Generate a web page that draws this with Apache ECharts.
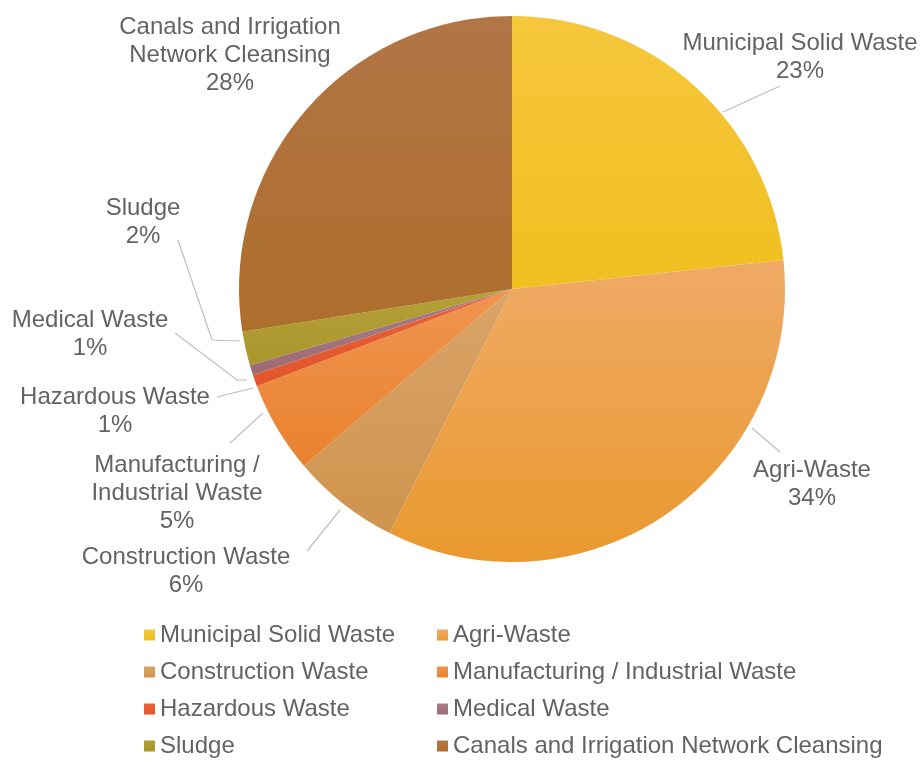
<!DOCTYPE html>
<html>
<head>
<meta charset="utf-8">
<title>Waste Composition</title>
<script src="https://cdn.jsdelivr.net/npm/echarts@6/dist/echarts.min.js"></script>
<style>
  html, body { margin: 0; padding: 0; background: #ffffff; }
  #chart { width: 922px; height: 774px; }
</style>
</head>
<body>
<div id="chart"></div>
<script>
// Waste streams, clockwise from 12 o'clock
const categories = [
  'Municipal Solid Waste',
  'Agri-Waste',
  'Construction Waste',
  'Manufacturing / Industrial Waste',
  'Hazardous Waste',
  'Medical Waste',
  'Sludge',
  'Canals and Irrigation Network Cleansing'
];
// Share of total waste (%)
const shares = [23.3, 34.1, 6.4, 5.4, 0.7, 0.6, 2.0, 27.5];
// Wrapped names used in the slice labels
const labelNames = [
  'Municipal Solid Waste',
  'Agri-Waste',
  'Construction Waste',
  'Manufacturing /\nIndustrial Waste',
  'Hazardous Waste',
  'Medical Waste',
  'Sludge',
  'Canals and Irrigation\nNetwork Cleansing'
];
// Legend columns
const legendLeft = ['Municipal Solid Waste', 'Construction Waste', 'Hazardous Waste', 'Sludge'];
const legendRight = ['Agri-Waste', 'Manufacturing / Industrial Waste', 'Medical Waste', 'Canals and Irrigation Network Cleansing'];

// Slice fills: [top, bottom] of a soft vertical gradient
const fills = [
  ['#F6C73C', '#F0BF20'],
  ['#F0AA66', '#E9992E'],
  ['#D9A468', '#CF944E'],
  ['#EF9550', '#E9822E'],
  ['#E8633A', '#E2552A'],
  ['#A87C88', '#9C6C74'],
  ['#B4A038', '#AA962C'],
  ['#B27546', '#AE6E2C']
];

// Label block centres and leader-line paths
const labelSpots = [
  { x: 800, y: 57,  line: [[723, 112], [780, 86]] },
  { x: 812, y: 484, line: [[752, 428], [780, 452]] },
  { x: 186, y: 571, line: [[340, 510], [307, 551]] },
  { x: 177, y: 493, line: [[263, 413], [230, 443]] },
  { x: 115, y: 411, line: [[253, 388], [217, 397]] },
  { x: 90,  y: 334, line: [[247, 380], [237, 380], [175, 333]] },
  { x: 143, y: 222, line: [[240, 341], [212, 340], [178, 240]] },
  { x: 230, y: 55,  line: null }
];

const FONT = "'Liberation Sans', Arial, Helvetica, sans-serif";
const TEXT = '#636363';

const chart = echarts.init(document.getElementById('chart'), null, { renderer: 'canvas' });

const pieData = categories.map((name, i) => ({
  name: name,
  value: shares[i],
  itemStyle: {
    color: new echarts.graphic.LinearGradient(0, 0, 0, 1, [
      { offset: 0, color: fills[i][0] },
      { offset: 1, color: fills[i][1] }
    ])
  }
}));

function legendFor(names, left) {
  return {
    data: names,
    orient: 'vertical',
    left: left,
    top: 617,
    icon: 'rect',
    itemWidth: 11,
    itemHeight: 11,
    itemGap: 11,
    selectedMode: false,
    textStyle: { fontFamily: FONT, fontSize: 24, lineHeight: 26, color: TEXT }
  };
}

chart.setOption({
  animation: false,
  backgroundColor: '#ffffff',
  legend: [legendFor(legendLeft, 139), legendFor(legendRight, 432)],
  series: [{
    type: 'pie',
    center: [512, 289],
    radius: 273,
    startAngle: 90,
    clockwise: true,
    percentPrecision: 0,
    avoidLabelOverlap: false,
    data: pieData,
    label: {
      show: true,
      position: 'outside',
      fontFamily: FONT,
      fontSize: 24,
      lineHeight: 28,
      color: TEXT,
      align: 'center',
      formatter: p => labelNames[p.dataIndex] + '\n' + p.percent + '%'
    },
    labelLine: {
      show: true,
      lineStyle: { color: '#BFBFBF', width: 1.2 }
    },
    labelLayout: p => {
      const s = labelSpots[p.dataIndex];
      const out = { x: s.x, y: s.y, align: 'center', verticalAlign: 'middle' };
      if (s.line) out.labelLinePoints = s.line.length === 2 ? [s.line[0], s.line[0], s.line[1]] : s.line;
      else out.labelLinePoints = [[s.x, s.y], [s.x, s.y], [s.x, s.y]];
      return out;
    },
    emphasis: { disabled: true }
  }]
});
</script>
</body>
</html>
